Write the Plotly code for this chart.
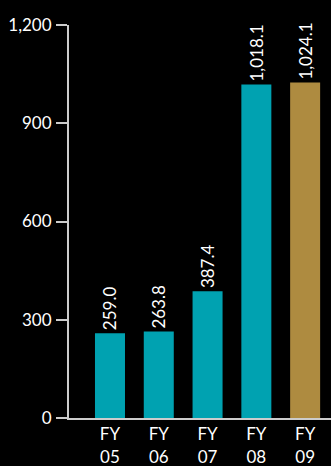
import plotly.graph_objects as go

categories = ["FY<br>05", "FY<br>06", "FY<br>07", "FY<br>08", "FY<br>09"]
values = [259.0, 263.8, 387.4, 1018.1, 1024.1]
labels = ["259.0", "263.8", "387.4", "1,018.1", "1,024.1"]
colors = ["#00a2b1", "#00a2b1", "#00a2b1", "#00a2b1", "#ae8b40"]
ytick_vals = [0, 300, 600, 900, 1200]
ytick_text = ["0", "300", "600", "900", "1,200"]

fig = go.Figure()
fig.add_trace(go.Bar(
    x=list(range(len(categories))),
    y=values,
    marker=dict(color=colors, line=dict(width=0)),
    width=0.615,
    text=labels,
    textposition="outside",
    textangle=-90,
    constraintext="none",
    cliponaxis=False,
    textfont=dict(color="white", size=17, family="Lato"),
))

fig.update_layout(
    width=331, height=466,
    margin=dict(l=69, r=0, t=25, b=48),
    paper_bgcolor="black", plot_bgcolor="black",
    showlegend=False,
    font=dict(family="Lato", color="white", size=17),
    xaxis=dict(
        range=[-0.84, 4.53],
        tickvals=list(range(len(categories))),
        ticktext=categories,
        showgrid=False, zeroline=False,
        showline=True, linecolor="#cccccc", linewidth=2,
        ticks="", tickfont=dict(size=17, color="white"),
        automargin=False,
    ),
    yaxis=dict(
        range=[0, 1200],
        tickvals=ytick_vals,
        ticktext=ytick_text,
        showgrid=False, zeroline=False,
        showline=True, linecolor="#cccccc", linewidth=2,
        ticks="outside", ticklen=11, tickwidth=2, tickcolor="#cccccc",
        tickfont=dict(size=17, color="white"),
        ticklabelstandoff=1,
        automargin=False,
    ),
)

fig.write_html("out.html")
